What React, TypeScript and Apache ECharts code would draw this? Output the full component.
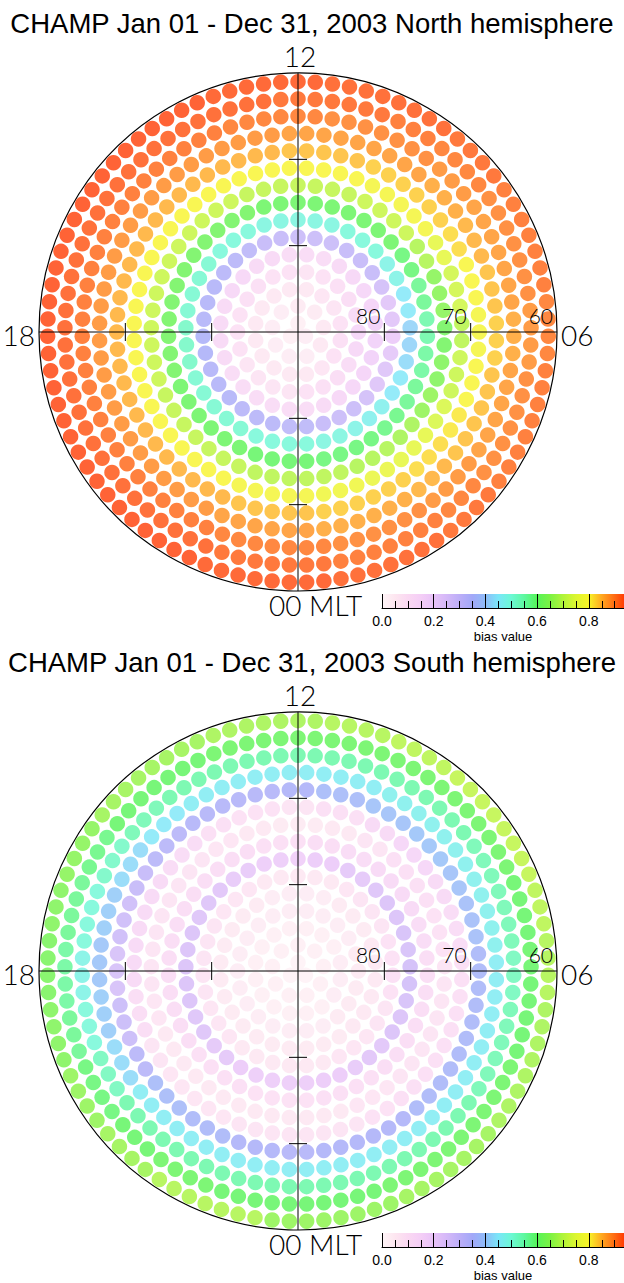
import React, { useEffect, useRef } from "react";
import * as echarts from "echarts";

// ---------------- data ----------------
const TITLES = [
  "CHAMP Jan 01 - Dec 31, 2003 North hemisphere",
  "CHAMP Jan 01 - Dec 31, 2003 South hemisphere",
];
// ring centres, degrees of colatitude from the pole (2-degree latitude bins, 60-90)
const RING_COLAT = [1, 3, 5, 7, 9, 11, 13, 15, 17, 19, 21, 23, 25, 27, 29];
const LAT_TICKS = [80, 70];
const LAT_LABELS = [80, 70, 60];
const MLT_LABELS = { bottom: "00 MLT", right: "06", top: "12", left: "18" };
const CB_TICKS = [0.0, 0.2, 0.4, 0.6, 0.8];
const CB_NAME = "bias value";
// colour scale, one colour per 0.05 of bias value (0.00 ... 0.95)
const COLOR_STOPS = [
  "#fff6f8", "#fde6f0", "#fad8f2", "#f4cef6", "#e8c2f8", "#d4b8f8", "#bcaef8",
  "#a2a8f8", "#8ebcf8", "#7ae6f8", "#6cf8d4", "#5ef8a0", "#56f458", "#7cf244",
  "#b0f43a", "#dcf630", "#f8f428", "#ffa820", "#ff6a12", "#ff3c04",
];

// bias value per ring (innermost first), per MLT hour 00..23
const NORTH_BIAS = [
  [.03,.03,.04,.04,.04,.05,.05,.05,.04,.04,.04,.03,.03,.03,.03,.03,.03,.03,.03,.03,.03,.03,.03,.03],
  [.04,.04,.05,.05,.06,.06,.07,.06,.06,.05,.05,.05,.05,.05,.04,.04,.04,.04,.04,.04,.04,.04,.04,.04],
  [.06,.06,.07,.08,.09,.10,.10,.09,.08,.07,.07,.06,.06,.06,.06,.06,.06,.06,.06,.06,.06,.06,.06,.06],
  [.08,.09,.10,.11,.12,.14,.15,.13,.11,.10,.09,.08,.08,.09,.09,.10,.10,.09,.09,.09,.08,.08,.08,.08],
  [.12,.13,.14,.15,.16,.17,.17,.16,.15,.14,.13,.12,.12,.13,.13,.14,.14,.13,.13,.13,.12,.12,.12,.12],
  [.32,.30,.29,.27,.24,.22,.20,.23,.27,.30,.30,.29,.29,.30,.32,.33,.34,.34,.35,.35,.34,.34,.33,.33],
  [.50,.49,.48,.47,.45,.43,.42,.45,.48,.50,.50,.49,.49,.49,.50,.50,.51,.51,.52,.52,.51,.51,.51,.50],
  [.60,.59,.59,.58,.57,.56,.55,.57,.59,.61,.61,.61,.61,.61,.62,.62,.62,.62,.62,.62,.61,.61,.61,.60],
  [.70,.70,.69,.68,.66,.64,.62,.65,.69,.72,.72,.71,.71,.71,.72,.72,.72,.72,.72,.72,.71,.71,.71,.70],
  [.79,.78,.77,.76,.74,.72,.70,.73,.76,.79,.79,.80,.80,.80,.80,.80,.80,.80,.80,.80,.80,.80,.80,.79],
  [.84,.83,.83,.82,.81,.80,.79,.80,.82,.83,.83,.84,.84,.85,.85,.85,.85,.85,.85,.85,.85,.85,.85,.84],
  [.87,.86,.86,.85,.84,.84,.83,.84,.85,.86,.87,.87,.87,.88,.88,.88,.88,.88,.88,.88,.88,.88,.88,.87],
  [.90,.89,.89,.88,.87,.87,.86,.87,.87,.88,.89,.89,.90,.90,.91,.91,.91,.91,.91,.91,.91,.91,.91,.90],
  [.92,.91,.91,.90,.89,.89,.88,.89,.89,.90,.91,.92,.92,.93,.93,.93,.93,.93,.93,.93,.93,.93,.93,.92],
  [.94,.93,.93,.92,.91,.91,.90,.91,.91,.92,.93,.93,.94,.94,.95,.95,.95,.95,.95,.95,.95,.95,.95,.94],
];

const SOUTH_BIAS = [
  [.02,.02,.02,.02,.02,.02,.02,.02,.02,.02,.02,.02,.02,.02,.02,.02,.02,.02,.02,.02,.02,.02,.02,.02],
  [.03,.03,.03,.03,.03,.03,.03,.03,.03,.03,.03,.03,.03,.03,.03,.03,.03,.03,.03,.03,.03,.03,.03,.03],
  [.03,.03,.03,.03,.04,.04,.04,.04,.03,.03,.03,.03,.03,.03,.03,.03,.03,.03,.03,.03,.03,.03,.03,.03],
  [.04,.04,.04,.05,.05,.05,.05,.05,.04,.04,.04,.04,.04,.04,.04,.04,.04,.04,.04,.04,.04,.04,.04,.04],
  [.05,.05,.05,.06,.06,.06,.06,.06,.05,.05,.05,.04,.04,.04,.05,.05,.05,.05,.05,.05,.05,.05,.05,.05],
  [.06,.06,.07,.07,.08,.09,.10,.09,.08,.08,.07,.06,.06,.06,.07,.07,.08,.08,.08,.08,.07,.07,.06,.06],
  [.19,.20,.21,.23,.25,.26,.27,.26,.25,.24,.22,.20,.18,.19,.21,.23,.24,.25,.25,.25,.24,.22,.20,.19],
  [.09,.10,.10,.11,.11,.11,.11,.12,.13,.13,.12,.11,.10,.10,.11,.11,.11,.11,.11,.11,.11,.10,.10,.09],
  [.06,.06,.07,.08,.08,.08,.08,.09,.10,.10,.08,.06,.05,.06,.07,.08,.08,.08,.08,.07,.06,.06,.06,.06],
  [.08,.08,.09,.10,.10,.10,.10,.12,.13,.15,.13,.10,.08,.09,.10,.12,.13,.13,.13,.11,.08,.07,.07,.08],
  [.34,.35,.35,.36,.36,.36,.36,.38,.39,.40,.39,.37,.35,.34,.34,.33,.30,.28,.26,.29,.33,.37,.36,.35],
  [.46,.46,.46,.46,.46,.46,.46,.47,.47,.47,.47,.46,.46,.46,.46,.45,.43,.41,.40,.41,.43,.46,.46,.46],
  [.55,.55,.55,.55,.54,.54,.53,.54,.54,.55,.55,.55,.55,.55,.55,.54,.52,.50,.48,.50,.53,.55,.55,.55],
  [.60,.60,.61,.61,.61,.60,.60,.60,.61,.61,.61,.61,.61,.61,.60,.60,.58,.57,.56,.57,.59,.60,.61,.60],
  [.66,.66,.67,.67,.68,.68,.69,.70,.71,.71,.70,.69,.68,.68,.67,.67,.65,.64,.63,.64,.66,.67,.69,.69],
];

// ---------------- layout ----------------
const W = 624;
const H = 1283;
const PANEL_DY = 639;
const CX = 298;
const CY = 332;
const RADIUS = 259;
const COLAT_MAX = 30;
const DOT_SIZE = 15.5;
const CB_LEFT = 382;
const CB_TOP = 594;
const CB_W = 242;
const CB_H = 14;
const CB_MAX = 0.936;
const LABEL_FONT = "Lato, 'DejaVu Sans', sans-serif";
const TEXT_FONT = "'Liberation Sans', Arial, sans-serif";

function buildDots(table: number[][]) {
  const out: number[][] = [];
  RING_COLAT.forEach((colat, k) => {
    const n = Math.round(Math.PI * colat); // dots spaced like the rings
    for (let j = 0; j < n; j++) {
      const mlt = ((j + 0.5) * 24) / n;
      const hour = Math.round(mlt) % 24;
      out.push([colat, mlt, table[k][hour]]);
    }
  });
  return out;
}

function decoRender(params: any, api: any) {
  const stroke = { stroke: "#000", lineWidth: 1 };
  const top = api.coord([COLAT_MAX, 12]);
  const bot = api.coord([COLAT_MAX, 0]);
  const lef = api.coord([COLAT_MAX, 18]);
  const rig = api.coord([COLAT_MAX, 6]);
  const children: any[] = [
    { type: "line", shape: { x1: top[0], y1: top[1], x2: bot[0], y2: bot[1] }, style: stroke },
    { type: "line", shape: { x1: lef[0], y1: lef[1], x2: rig[0], y2: rig[1] }, style: stroke },
  ];
  LAT_TICKS.forEach((lat) => {
    const c = 90 - lat;
    [0, 12].forEach((m) => {
      const p = api.coord([c, m]);
      children.push({ type: "line", shape: { x1: p[0] - 9, y1: p[1], x2: p[0] + 9, y2: p[1] }, style: stroke });
    });
    [6, 18].forEach((m) => {
      const p = api.coord([c, m]);
      children.push({ type: "line", shape: { x1: p[0], y1: p[1] - 9, x2: p[0], y2: p[1] + 9 }, style: stroke });
    });
  });
  const txt = (text: string, x: number, y: number, size: number, align: string) => ({
    type: "text",
    x,
    y,
    style: {
      text,
      fill: "#000",
      fontSize: size,
      fontFamily: LABEL_FONT,
      fontWeight: 300,
      align,
      verticalAlign: "middle",
    },
  });
  LAT_LABELS.forEach((lat) => {
    const p = api.coord([90 - lat, 6]);
    children.push(txt(String(lat), p[0] - 4, p[1] - 17, 21, "right"));
  });
  children.push(txt(MLT_LABELS.top, top[0] + 2, top[1] - 17, 28, "center"));
  children.push(txt(MLT_LABELS.left, lef[0] - 4, lef[1] + 3, 28, "right"));
  children.push(txt(MLT_LABELS.right, rig[0] + 4, rig[1] + 3, 28, "left"));
  children.push(txt(MLT_LABELS.bottom, bot[0] - 29, bot[1] + 14, 28, "left"));
  return { type: "group", children };
}

function buildOption() {
  const panels = [NORTH_BIAS, SOUTH_BIAS];
  const polar: any[] = [];
  const angleAxis: any[] = [];
  const radiusAxis: any[] = [];
  const grid: any[] = [];
  const xAxis: any[] = [];
  const yAxis: any[] = [];
  const series: any[] = [];
  const graphic: any[] = [];

  const gradStops = COLOR_STOPS.map((c, i) => ({ offset: Math.min(1, (i * 0.05) / CB_MAX), color: c }));

  panels.forEach((table, i) => {
    const dy = i * PANEL_DY;
    polar.push({ center: [CX, CY + dy], radius: RADIUS });
    angleAxis.push({
      polarIndex: i,
      type: "value",
      min: 0,
      max: 24,
      startAngle: 270,
      clockwise: false,
      axisLine: { show: true, lineStyle: { color: "#000", width: 1.2 } },
      axisTick: { show: false },
      axisLabel: { show: false },
      splitLine: { show: false },
    });
    radiusAxis.push({
      polarIndex: i,
      type: "value",
      min: 0,
      max: COLAT_MAX,
      axisLine: { show: false },
      axisTick: { show: false },
      axisLabel: { show: false },
      splitLine: { show: false },
    });
    series.push({
      type: "scatter",
      coordinateSystem: "polar",
      polarIndex: i,
      symbol: "circle",
      symbolSize: DOT_SIZE,
      data: buildDots(table),
      z: 2,
      silent: true,
    });
    grid.push({ left: CB_LEFT, top: CB_TOP + dy, width: CB_W, height: CB_H });
    xAxis.push({
      gridIndex: i,
      type: "value",
      min: 0,
      max: CB_MAX,
      interval: CB_TICKS[1] - CB_TICKS[0],
      z: 10,
      axisLine: { show: true, lineStyle: { color: "#000", width: 1 } },
      axisTick: { show: true, inside: true, length: CB_H, lineStyle: { color: "#000", width: 1 } },
      minorTick: { show: true, splitNumber: 4, length: 7, lineStyle: { color: "#000", width: 1 } },
      splitLine: { show: false },
      axisLabel: {
        color: "#000",
        fontSize: 14,
        fontFamily: TEXT_FONT,
        margin: 6,
        showMaxLabel: false,
        formatter: (v: number) => (CB_TICKS.some((t) => Math.abs(t - v) < 1e-6) ? v.toFixed(1) : ""),
      },
      name: CB_NAME,
      nameLocation: "middle",
      nameGap: 22,
      nameTextStyle: { color: "#000", fontSize: 13, fontFamily: TEXT_FONT },
    });
    yAxis.push({ gridIndex: i, type: "value", min: 0, max: 1, show: false });
    graphic.push({
      type: "rect",
      z: 1,
      shape: { x: CB_LEFT, y: CB_TOP + dy, width: CB_W, height: CB_H },
      style: { fill: { type: "linear", x: 0, y: 0, x2: 1, y2: 0, colorStops: gradStops } },
      silent: true,
    });
    graphic.push({
      type: "text",
      x: W / 2,
      y: 23 + dy,
      style: {
        text: TITLES[i],
        fill: "#000",
        fontSize: 27.5,
        fontFamily: TEXT_FONT,
        align: "center",
        verticalAlign: "middle",
      },
    });
  });

  panels.forEach((_, i) => {
    series.push({
      type: "custom",
      coordinateSystem: "polar",
      polarIndex: i,
      data: [[0, 0]],
      renderItem: decoRender,
      z: 5,
      silent: true,
    });
  });

  return {
    animation: false,
    backgroundColor: "#fff",
    polar,
    angleAxis,
    radiusAxis,
    grid,
    xAxis,
    yAxis,
    visualMap: {
      type: "continuous",
      show: false,
      min: 0,
      max: 0.95,
      dimension: 2,
      seriesIndex: [0, 1],
      inRange: { color: COLOR_STOPS },
    },
    graphic,
    series,
  };
}

export default function App() {
  const ref = useRef<HTMLDivElement>(null);
  useEffect(() => {
    if (!ref.current) return;
    const chart = echarts.init(ref.current, null, { renderer: "svg" });
    chart.setOption(buildOption() as any);
    return () => chart.dispose();
  }, []);
  return (
    <div
      ref={ref}
      style={{ position: "absolute", left: 0, top: 0, width: W, height: H, background: "#fff" }}
    />
  );
}
